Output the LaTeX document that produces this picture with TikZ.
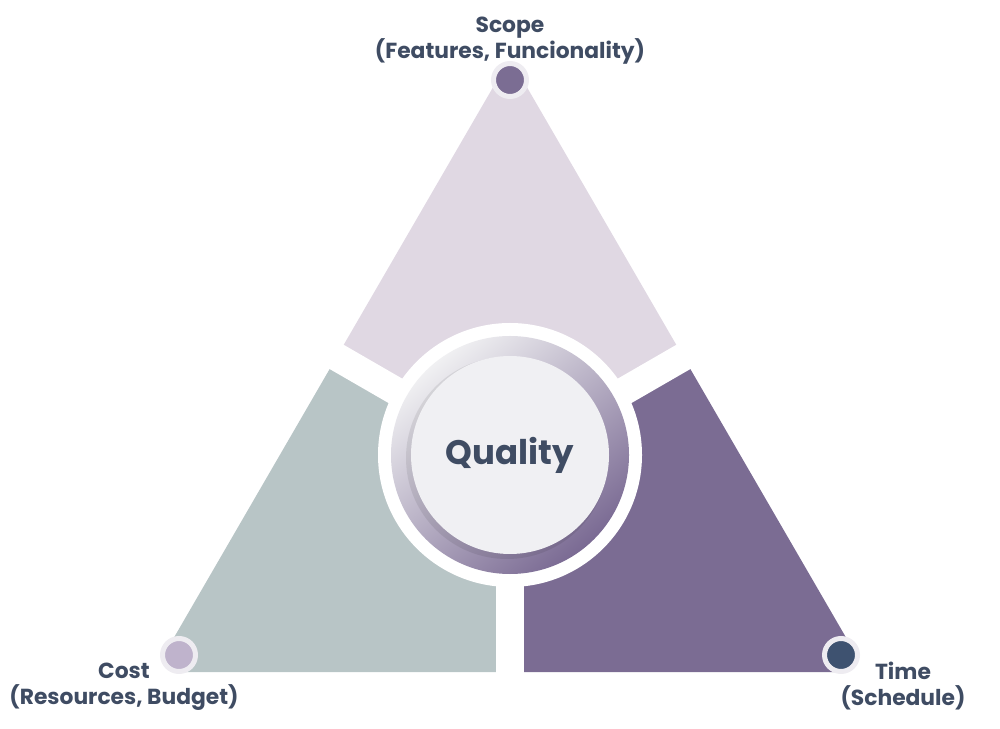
\documentclass[tikz,border=0pt]{standalone}
\usepackage{fontspec}
\setmainfont{Poppins}
\usetikzlibrary{calc}
\definecolor{inkcol}{HTML}{3F4C63}
\definecolor{scopefill}{HTML}{E0D8E3}
\definecolor{costfill}{HTML}{B8C5C6}
\definecolor{timefill}{HTML}{7B6C93}
\definecolor{ringcol}{HTML}{EEECF1}
\definecolor{scopedotcol}{HTML}{7B6D93}
\definecolor{costdotcol}{HTML}{BFB3CC}
\definecolor{timedotcol}{HTML}{3E5270}
\definecolor{ringlight}{HTML}{F0F0F2}
\definecolor{ringdark}{HTML}{7A6A93}
\definecolor{innerfill}{HTML}{F0F0F3}

\begin{document}
\begin{tikzpicture}[x=1pt,y=1pt,
  tag/.style={align=center,text=inkcol,font=\fontsize{21.8}{26}\selectfont\bfseries},
  dot/.style={circle,inner sep=0pt,minimum size=33,draw=ringcol,line width=5},
  gap/.style={white,line width=28}]
\useasboundingbox (0,0) rectangle (1000,728);
% triangle corners and centre
\coordinate (A) at (510,670);
\coordinate (B) at (154,56);
\coordinate (C) at (866,56);
\coordinate (O) at (510,271);
\coordinate (Q) at (510,273);
% three coloured pieces
\begin{scope}
\clip[rounded corners=30] (A)--(B)--(C)--cycle;
\fill[scopefill] (O)--($(O)+(30:700)$)--($(O)+(90:700)$)--($(O)+(150:700)$)--cycle;
\fill[costfill] (O)--($(O)+(150:700)$)--($(O)+(210:700)$)--($(O)+(270:700)$)--cycle;
\fill[timefill] (O)--($(O)+(270:700)$)--($(O)+(330:700)$)--($(O)+(390:700)$)--cycle;
\end{scope}
\foreach \a in {30,150,270}
  \draw[gap] (O)--($(O)+(\a:450)$);
% centre disc
\fill[white] (Q) circle (132);
\shade[top color=ringlight,bottom color=ringdark,shading angle=40] (Q) circle (119);
\fill[black,opacity=.08] ($(Q)+(-3,-3)$) circle (101);
\fill[innerfill] (Q) circle (99);
\node[text=inkcol,font=\fontsize{34}{40}\selectfont\bfseries] (quality) at (Q) {Quality};
% corner dots
\node[dot,fill=scopedotcol] (scopedot) at (510,648) {};
\node[dot,fill=costdotcol] (costdot) at (179,73) {};
\node[dot,fill=timedotcol] (timedot) at (841,73) {};
% labels
\node[tag] (scope) at (510,687) {Scope\\(Features, Funcionality)};
\node[tag] (cost) at (124,41) {Cost\\(Resources, Budget)};
\node[tag] (time) at (903,42) {Time\\(Schedule)};
\end{tikzpicture}
\end{document}
